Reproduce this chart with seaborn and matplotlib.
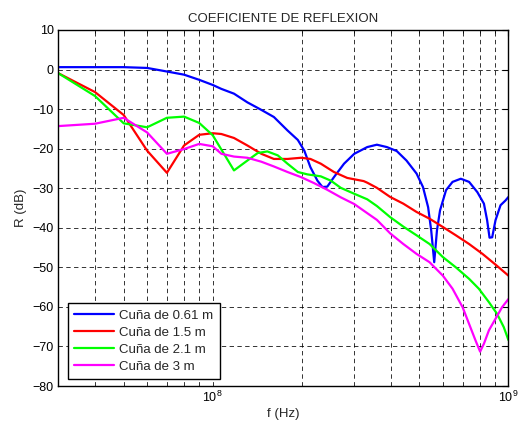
import numpy as np
import pandas as pd
import matplotlib
matplotlib.use("Agg")
import matplotlib.pyplot as plt
import seaborn as sns
from matplotlib.ticker import LogLocator, FixedLocator, NullFormatter

# ---- data (frequency in MHz, R in dB) ----
f_061 = [30, 40, 50, 60, 70, 80, 90, 100, 107, 118, 131, 146, 161, 179, 194, 204, 214, 226, 235, 244,
         257, 278, 301, 333, 359, 388, 419, 452, 489, 514, 535, 548, 561, 573, 587, 615, 647, 690, 736,
         785, 826, 847, 863, 881, 904, 940, 977, 1000]
r_061 = [0.6, 0.6, 0.6, 0.4, -0.5, -1.3, -2.6, -3.9, -4.9, -6.1, -8.3, -10.2, -12.0, -15.4, -17.8, -20.5,
         -24.7, -28.1, -29.7, -29.6, -27.2, -23.8, -21.3, -19.6, -19.0, -19.6, -20.6, -23.0, -26.3, -29.7,
         -34.8, -40.7, -48.7, -40.7, -35.6, -30.5, -28.4, -27.6, -28.4, -31.0, -33.9, -38.1, -42.5, -42.4,
         -38.1, -34.3, -33.1, -32.2]

f_15 = [30, 40, 50, 60, 70, 80, 90, 100, 107, 118, 131, 146, 161, 179, 199, 214, 232, 257, 285, 324, 333,
        359, 398, 441, 489, 541, 600, 664, 736, 817, 904, 1000]
r_15 = [-0.9, -5.7, -11.5, -20.5, -26.1, -19.2, -16.5, -16.1, -16.3, -17.3, -19.2, -21.3, -22.6, -22.6,
        -22.3, -22.6, -23.8, -25.9, -27.4, -28.2, -28.6, -29.9, -32.2, -33.9, -36.0, -37.7, -39.8, -41.9,
        -44.1, -46.6, -49.3, -52.1]

f_21 = [30, 40, 50, 60, 70, 80, 90, 100, 118, 131, 142, 153, 166, 179, 194, 209, 232, 251, 271, 301, 333,
        359, 398, 441, 489, 541, 600, 664, 736, 794, 859, 916, 964, 1000]
r_21 = [-0.9, -6.7, -13.6, -14.6, -12.2, -11.9, -13.5, -16.6, -25.5, -23.0, -21.1, -20.7, -21.7, -23.8,
        -25.9, -26.5, -27.0, -28.1, -29.9, -31.4, -32.8, -34.5, -37.3, -39.7, -41.9, -44.1, -47.4, -50.0,
        -52.9, -55.4, -58.8, -61.8, -65.1, -68.4]

f_3 = [30, 40, 50, 60, 70, 80, 90, 100, 107, 118, 131, 146, 161, 179, 199, 220, 244, 271, 301, 333, 359,
       398, 441, 489, 541, 600, 647, 700, 736, 774, 802, 826, 859, 904, 951, 1000]
r_3 = [-14.3, -13.7, -12.2, -15.9, -21.3, -20.1, -18.8, -19.4, -21.3, -22.0, -22.3, -23.3, -24.5, -25.9,
       -27.2, -28.7, -30.4, -32.3, -34.0, -36.3, -38.0, -41.4, -44.1, -46.6, -48.7, -52.1, -55.4, -60.1,
       -64.3, -68.5, -71.3, -69.3, -65.9, -63.0, -60.1, -58.0]

labels = ["Cuña de 0.61 m", "Cuña de 1.5 m", "Cuña de 2.1 m", "Cuña de 3 m"]
colors = ["#0000ff", "#ff0000", "#00ff00", "#ff00ff"]

frames = []
for lab, f, r in zip(labels, [f_061, f_15, f_21, f_3], [r_061, r_15, r_21, r_3]):
    frames.append(pd.DataFrame({"f": np.array(f) * 1e6, "R": r, "serie": lab}))
df = pd.concat(frames, ignore_index=True)

# ---- style ----
sns.set_style("white")
plt.rcParams["font.family"] = ["Liberation Sans", "DejaVu Sans"]
plt.rcParams["mathtext.default"] = "regular"

fig = plt.figure(figsize=(5.28, 4.28), dpi=100)
ax = fig.add_axes([0.110, 0.098, 0.853, 0.832])

sns.lineplot(data=df, x="f", y="R", hue="serie", hue_order=labels,
             palette=dict(zip(labels, colors)), estimator=None, sort=False,
             linewidth=1.6, ax=ax)

ax.set_xscale("log")
ax.set_xlim(3e7, 1e9)
ax.set_ylim(-80, 10)
ax.set_yticks(np.arange(-80, 11, 10))
ax.xaxis.set_major_locator(FixedLocator([1e8, 1e9]))
ax.set_xticklabels(["$10^{8}$", "$10^{9}$"])
ax.xaxis.set_minor_locator(LogLocator(base=10, subs=np.arange(2, 10)))
ax.xaxis.set_minor_formatter(NullFormatter())

grid_kw = dict(color="black", linestyle=(0, (4.5, 3.5)), linewidth=0.7, alpha=0.8)
ax.grid(True, which="major", axis="both", **grid_kw)
ax.grid(True, which="minor", axis="x", **grid_kw)
ax.set_axisbelow(True)

for s in ax.spines.values():
    s.set_color("black")
    s.set_linewidth(1.0)
    s.set_visible(True)

ax.tick_params(axis="both", which="both", direction="in", top=True, right=True,
               colors="black", labelsize=9, pad=3)
ax.tick_params(which="major", length=4, width=0.8)
ax.tick_params(which="minor", length=2, width=0.6)

ax.set_title("COEFICIENTE DE REFLEXION", fontsize=9.5, pad=6)
ax.set_xlabel("f (Hz)", fontsize=9.5, labelpad=2)
ax.set_ylabel("R (dB)", fontsize=9.5, labelpad=4)

leg = ax.legend(loc="lower left", bbox_to_anchor=(0.021, 0.019), borderaxespad=0,
                fontsize=9.5, frameon=True, fancybox=False, edgecolor="black",
                handlelength=3.0, labelspacing=0.36, borderpad=0.5, handletextpad=0.4)
leg.get_frame().set_linewidth(1.0)
leg.get_frame().set_alpha(1)

fig.savefig("out.png", dpi=100, facecolor="white")
